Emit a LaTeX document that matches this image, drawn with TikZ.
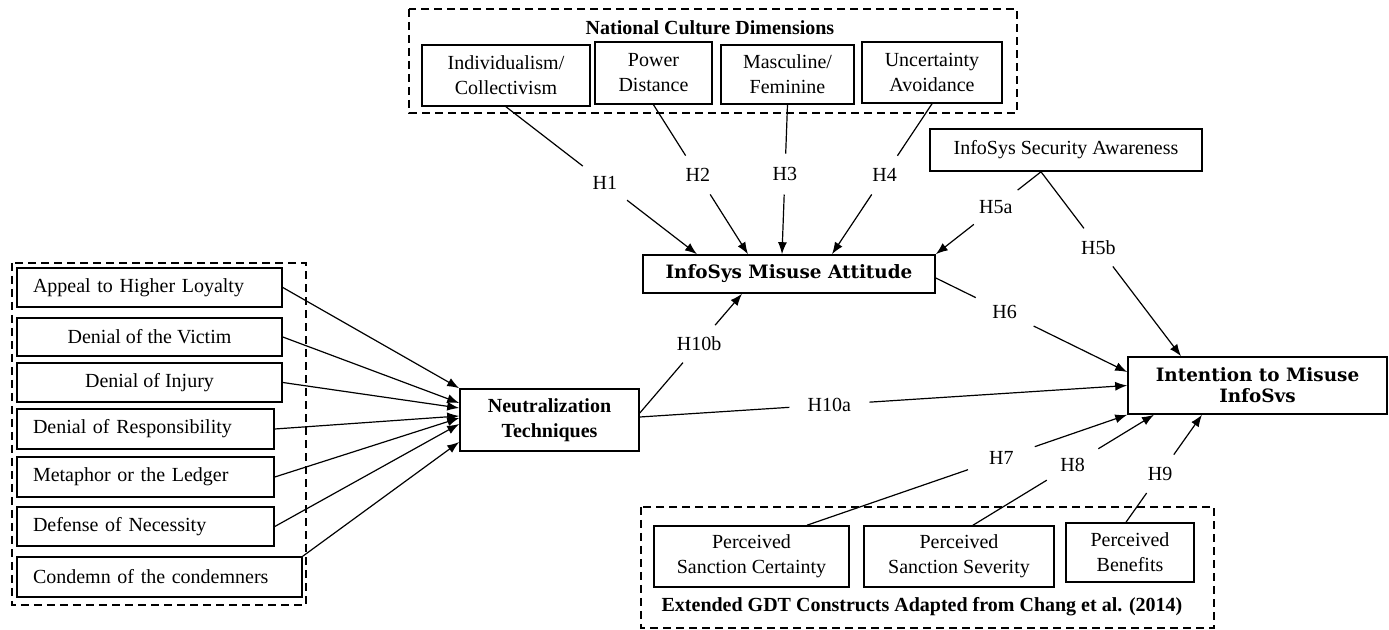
\documentclass[tikz,border=0pt]{standalone}
\usepackage{fontspec}
\setmainfont{Liberation Serif}
\newfontfamily\headfont{DejaVu Serif}
\usetikzlibrary{arrows.meta,shapes.geometric,calc}
\begin{document}
\begin{tikzpicture}[x=0.5pt,y=-0.5pt,
  txt/.style={font=\fontsize{10}{12.5}\selectfont},
  box/.style={draw, line width=0.8pt, inner sep=0pt, align=center, txt},
  lbox/.style={draw, line width=0.8pt, inner ysep=0pt, inner xsep=8pt, align=left, txt},
  hbox/.style={draw, line width=0.8pt, inner sep=0pt, align=center, font=\headfont\bfseries\fontsize{9.2}{10.5}\selectfont},
  frame/.style={draw, line width=0.6pt, dash pattern=on 4pt off 2.5pt},
  conn/.style={draw, line width=0.6pt},
  arr/.style={conn, -{Latex[length=6pt,width=4.5pt]}},
  hyp/.style={ellipse, minimum width=40pt, minimum height=20pt, inner sep=0pt, txt},
  ttl/.style={font=\bfseries\fontsize{10}{12.5}\selectfont}
]
\useasboundingbox (0,0) rectangle (1389,630);

% National culture dimensions
\node[box, minimum width=84pt, minimum height=30.5pt] (ind) at (506,75.5) {Individualism/\\Collectivism};
\node[box, minimum width=58.5pt, minimum height=31pt] (pow) at (653.5,73) {Power\\Distance};
\node[box, minimum width=66.5pt, minimum height=29.5pt] (mas) at (787.5,74.5) {Masculine/\\Feminine};
\node[box, minimum width=70pt, minimum height=30.5pt] (unc) at (932,72.5) {Uncertainty\\Avoidance};
\node[ttl] (ncdt) at (710,28) {National Culture Dimensions};
\draw[frame] (409,9) rectangle (1017,113);

% central constructs
\node[box, minimum width=136pt, minimum height=21pt] (sec) at (1066,150) {InfoSys Security Awareness};
\node[hbox, minimum width=146pt, minimum height=19pt] (mis) at (789,274) {InfoSys Misuse Attitude};
\node[hbox, minimum width=129.5pt, minimum height=28.5pt] (int) at (1257.5,385.5) {Intention to Misuse\\InfoSvs};
\node[box, font=\bfseries\fontsize{10}{12.5}\selectfont, minimum width=89.5pt, minimum height=31pt] (neu) at (549.5,420) {Neutralization\\Techniques};

% neutralization techniques
\node[lbox, text width=116.5pt, minimum height=19.5pt] (app) at (149.5,287.5) {Appeal to Higher Loyalty};
\node[box, minimum width=132.5pt, minimum height=19pt] (vic) at (149.5,337) {Denial of the Victim};
\node[box, minimum width=132.5pt, minimum height=19.5pt] (inj) at (149.5,382.5) {Denial of Injury};
\node[lbox, text width=112.5pt, minimum height=20pt] (res) at (145.5,429) {Denial of Responsibility};
\node[lbox, text width=112.5pt, minimum height=20pt] (met) at (145.5,477) {Metaphor or the Ledger};
\node[lbox, text width=112.5pt, minimum height=19.5pt] (def) at (145.5,526.5) {Defense of Necessity};
\node[lbox, text width=126.5pt, minimum height=20pt] (con) at (159.5,577) {Condemn of the condemners};
\draw[frame] (12,263) rectangle (306,605);

% GDT constructs
\node[box, minimum width=97.5pt, minimum height=30.5pt] (cer) at (751.5,556.5) {Perceived\\Sanction Certainty};
\node[box, minimum width=95pt, minimum height=30.5pt] (sev) at (959,556.5) {Perceived\\Sanction Severity};
\node[box, minimum width=64pt, minimum height=29.5pt] (ben) at (1130,552.5) {Perceived\\Benefits};
\node[ttl] (gdt) at (922,607) {Extended GDT Constructs Adapted from Chang et al. (2014)};
\draw[frame] (641,507) rectangle (1214,628);

% left arrows
\draw[arr] (app.east) -- (neu.north west);
\draw[arr] (vic.east) -- ([yshift=8.5pt]neu.west);
\draw[arr] (inj.east) -- ([yshift=6pt]neu.west);
\draw[arr] (res.east) -- ([yshift=2pt]neu.west);
\draw[arr] (met.east) -- ([yshift=1pt]neu.west);
\draw[arr] (def.east) -- ([yshift=-2pt]neu.west);
\draw[arr] (con.north east) -- ([yshift=-11pt]neu.west);

% endpoints
\coordinate (t1) at ([xshift=-46pt]mis.north);
\coordinate (t2) at ([xshift=-20.5pt]mis.north);
\coordinate (t3) at ([xshift=-3.5pt]mis.north);
\coordinate (t4) at ([xshift=21.5pt]mis.north);
\coordinate (s5) at ([xshift=-12.5pt]sec.south);
\coordinate (t5b) at ([xshift=-38.25pt]int.north);
\coordinate (s6) at ([yshift=-2pt]mis.east);
\coordinate (t6) at ([yshift=6.75pt]int.west);
\coordinate (s10b) at ([yshift=3.5pt]neu.east);
\coordinate (t10b) at ([xshift=-23.5pt]mis.south);
\coordinate (s10a) at ([yshift=1.5pt]neu.east);
\coordinate (s7) at ([xshift=27.75pt]cer.north);
\coordinate (s8) at ([xshift=7pt]sev.north);
\coordinate (t8) at ([xshift=-51.75pt]int.south);
\coordinate (s9) at ([xshift=-2pt]ben.north);
\coordinate (t9) at ([xshift=-27.75pt]int.south);

% hypothesis labels
\path (ind.south) -- (t1) node[hyp,pos=.518] (h1) {H1};
\path (pow.south) -- (t2) node[hyp,pos=.47] (h2) {H2};
\path (mas.south) -- (t3) node[hyp,pos=.464] (h3) {H3};
\path (unc.south) -- (t4) node[hyp,pos=.474] (h4) {H4};
\path (s5) -- (mis.north east) node[hyp,pos=.43] (h5a) {H5a};
\path (s5) -- (t5b) node[hyp,pos=.41] (h5b) {H5b};
\path (s6) -- (t6) node[hyp,pos=.36] (h6) {H6};
\path (s10b) -- (t10b) node[hyp,pos=.58] (h10b) {H10b};
\path (s10a) -- (int.west) node[hyp,pos=.389] (h10a) {H10a};
\path (s7) -- (int.south west) node[hyp,pos=.607] (h7) {H7};
\path (s8) -- (t8) node[hyp,pos=.55] (h8) {H8};
\path (s9) -- (t9) node[hyp,pos=.45] (h9) {H9};

% hypothesis connectors
\draw[conn] (ind.south) -- (h1); \draw[arr] (h1) -- (t1);
\draw[conn] (pow.south) -- (h2); \draw[arr] (h2) -- (t2);
\draw[conn] (mas.south) -- (h3); \draw[arr] (h3) -- (t3);
\draw[conn] (unc.south) -- (h4); \draw[arr] (h4) -- (t4);
\draw[conn] (s5) -- (h5a); \draw[arr] (h5a) -- (mis.north east);
\draw[conn] (s5) -- (h5b); \draw[arr] (h5b) -- (t5b);
\draw[conn] (s6) -- (h6); \draw[arr] (h6) -- (t6);
\draw[conn] (s10b) -- (h10b); \draw[arr] (h10b) -- (t10b);
\draw[conn] (s10a) -- (h10a); \draw[arr] (h10a) -- (int.west);
\draw[conn] (s7) -- (h7); \draw[arr] (h7) -- (int.south west);
\draw[conn] (s8) -- (h8); \draw[arr] (h8) -- (t8);
\draw[conn] (s9) -- (h9); \draw[arr] (h9) -- (t9);
\end{tikzpicture}
\end{document}
